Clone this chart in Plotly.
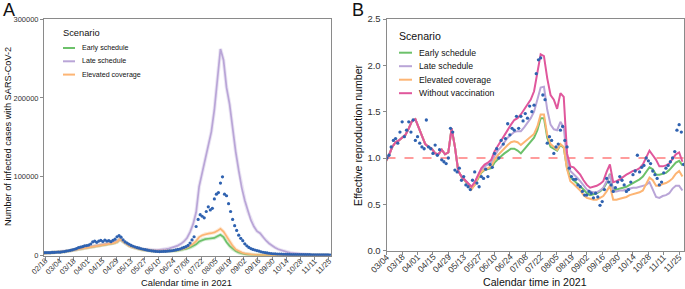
import plotly.graph_objects as go
import pandas as pd

# ---------------- Panel A : infected cases ----------------
a_line_dates = pd.date_range("2021-02-17", periods=95, freq="3D")
a_early = [3000, 3200, 3400, 3700, 4000, 4300, 4800, 5300, 5900, 6500, 7200, 8000, 8800, 9600, 10300,
           11000, 11700, 12300, 12900, 13500, 14100, 14700, 15300, 16000, 17500,
           21000, 18000, 15000, 12600, 11000, 9700, 8800, 8000, 7300, 6700,
           6200, 5900, 5700, 5600, 5600, 5600, 5700, 5900, 6200, 6600,
           7200, 8000, 9000, 10300, 12000, 14500, 18000, 20000, 21000, 21500,
           22000, 22500, 24500, 26500, 23500, 17000, 12500, 8500, 5800, 4000,
           2700, 1900, 1400, 1100, 900, 800, 700, 650, 600, 550,
           500, 500, 450, 450, 400, 400, 400, 400, 400, 400,
           400, 400, 400, 400, 400, 400, 400, 400, 400, 400]
a_late = [3000, 3300, 3600, 3900, 4200, 4500, 5000, 5600, 6200, 6800, 7500, 8300, 9200, 10000, 10800,
          11600, 12300, 13000, 13600, 14200, 14800, 15500, 16200, 17000, 18500,
          21500, 18500, 15500, 13000, 11300, 10000, 9200, 8500, 8000, 7600,
          7300, 7100, 7100, 7300, 7700, 8300, 9000, 10000, 11200, 12800,
          15000, 18000, 22500, 30000, 40000, 55000, 88000, 105000, 122000, 140000,
          157000, 185000, 222000, 262000, 248000, 213000, 192000, 160000, 132000, 108000,
          86000, 70000, 56000, 45000, 37000, 31000, 28500, 23500, 19000, 15500,
          12500, 10000, 8200, 6800, 5500, 4500, 3700, 3100, 2600, 2200,
          1900, 1600, 1400, 1200, 1000, 900, 800, 700, 600, 500]
a_elevated = [3000, 3200, 3400, 3700, 4000, 4300, 4800, 5300, 5900, 6500, 7200, 8000, 8800, 9600, 10300,
              11000, 11700, 12300, 12900, 13500, 14100, 14700, 15300, 16000, 17500,
              21000, 18000, 15000, 12600, 11000, 9700, 8800, 8000, 7300, 6700,
              6200, 5900, 5700, 5600, 5600, 5700, 5900, 6200, 6600, 7200,
              8000, 9000, 10500, 12500, 15000, 18500, 23500, 26000, 27500, 28000,
              28500, 29500, 31500, 34000, 30500, 24000, 18000, 12500, 8000, 5500,
              4000, 2800, 2000, 1500, 1200, 1000, 850, 700, 650, 600,
              550, 500, 500, 450, 450, 400, 400, 400, 400, 400,
              400, 400, 400, 400, 400, 400, 400, 400, 400, 400]

a_obs_dates = pd.date_range("2021-02-17", periods=142, freq="2D")
a_observed = [3800, 3900, 4000, 3800, 4200, 4100,
              4400, 4600, 4500, 5000, 5200, 5800, 6300, 6800, 7400, 8200, 9000, 10200, 10800, 11500, 12500, 12800,
              13500, 14800, 17500, 18500, 17000, 18500, 19500, 18000, 19800, 18500, 19200, 17800, 19500, 21000, 24000,
              25500, 23500, 20000, 17500, 16000, 14500, 13000, 12000, 11000, 10200, 9500, 8800, 8200, 7600, 7000,
              6600, 6200, 5800, 5500, 5300, 5200, 5300, 5500, 5600, 5800, 6000, 6300, 6800, 7300, 8000,
              8500, 9500, 10500, 11500, 13000, 16000, 20000, 24000, 37000, 46000, 52000, 50000, 48000, 56000, 62000, 58000,
              60000, 72000, 78000, 80000, 92000, 100000, 78000, 76000, 66000, 56000, 46000, 38000, 32000, 26000, 22000,
              19000, 15000, 12500, 10500, 9000, 8000, 7200, 6500, 5800, 5000, 4400, 3900, 3500, 3100, 2800,
              2500, 2300, 2100, 2000, 1900, 1800, 1700, 1650, 1600, 1550, 1500, 1500, 1450, 1400, 1400, 1350,
              1300, 1300, 1250, 1200, 1200, 1150, 1100, 1100, 1050, 1000, 1000, 950, 900]

a_tick_labels = ["02/18", "03/04", "03/18", "04/01", "04/15", "04/29", "05/13", "05/27", "06/10", "06/24",
                 "07/08", "07/22", "08/05", "08/19", "09/02", "09/16", "09/30", "10/14", "10/28", "11/11", "11/25"]
a_y_ticks = [0, 100000, 200000, 300000]

# ---------------- Panel B : effective reproduction number ----------------
b_line_dates = pd.date_range("2021-03-03", periods=91, freq="3D")
b_without = [0.96, 1.03, 1.12, 1.17, 1.19, 1.22, 1.25, 1.32, 1.40, 1.42,
             1.33, 1.22, 1.15, 1.12, 1.10, 1.05, 1.04, 1.09, 1.04, 1.06,
             1.32, 1.12, 0.86, 0.80, 0.76, 0.72, 0.69, 0.74, 0.82, 0.89,
             0.93, 0.95, 0.98, 1.07, 1.13, 1.19, 1.25, 1.31, 1.36, 1.41,
             1.43, 1.47, 1.52, 1.58, 1.63, 1.72, 1.92, 2.12, 2.10, 1.86,
             1.68, 1.63, 1.53, 1.70, 1.66, 1.05, 0.91, 0.90, 0.86, 0.82,
             0.76, 0.71, 0.68, 0.69, 0.70, 0.72, 0.75, 0.85, 0.93, 0.74,
             0.75, 0.77, 0.80, 0.82, 0.84, 0.86, 0.87, 0.89, 0.93, 1.00,
             1.08, 1.03, 0.98, 0.91, 0.91, 0.92, 0.94, 0.99, 1.04, 1.06, 0.96]
b_late = b_without[:27] + [
    0.73, 0.81, 0.87, 0.91, 0.93, 0.95, 1.02, 1.08, 1.12, 1.17, 1.22, 1.25, 1.28,
    1.29, 1.29, 1.33, 1.38, 1.43, 1.50, 1.62, 1.76, 1.77, 1.52,
    1.36, 1.31, 1.30, 1.39, 1.33, 0.98, 0.86, 0.83, 0.79, 0.75,
    0.70, 0.66, 0.64, 0.63, 0.63, 0.65, 0.68, 0.75, 0.82, 0.64,
    0.64, 0.65, 0.65, 0.66, 0.67, 0.68, 0.68, 0.69, 0.70, 0.71,
    0.74, 0.66, 0.58, 0.57, 0.59, 0.60, 0.62, 0.67, 0.70, 0.70, 0.65]
b_elevated = b_without[:26] + [
    0.66, 0.71, 0.79, 0.85, 0.88, 0.89, 0.91, 0.98, 1.03, 1.07, 1.11, 1.14, 1.17, 1.18,
    1.17, 1.14, 1.17, 1.20, 1.23, 1.26, 1.34, 1.47, 1.47, 1.25,
    1.15, 1.12, 1.09, 1.15, 1.12, 0.88, 0.75, 0.72, 0.69, 0.65,
    0.60, 0.57, 0.56, 0.55, 0.55, 0.57, 0.59, 0.64, 0.70, 0.55,
    0.55, 0.56, 0.57, 0.58, 0.60, 0.61, 0.62, 0.63, 0.65, 0.72,
    0.79, 0.76, 0.70, 0.70, 0.72, 0.73, 0.75, 0.78, 0.83, 0.86, 0.80]
b_early = b_without[:26] + [
    0.67, 0.71, 0.78, 0.84, 0.87, 0.88, 0.89, 0.95, 0.99, 1.02, 1.05, 1.08, 1.10, 1.10,
    1.08, 1.05, 1.09, 1.13, 1.17, 1.22, 1.30, 1.43, 1.43, 1.22,
    1.12, 1.10, 1.08, 1.14, 1.11, 0.89, 0.79, 0.76, 0.73, 0.70,
    0.66, 0.62, 0.60, 0.61, 0.62, 0.64, 0.67, 0.73, 0.83, 0.65,
    0.66, 0.67, 0.68, 0.69, 0.71, 0.73, 0.75, 0.77, 0.80, 0.85,
    0.90, 0.88, 0.82, 0.82, 0.83, 0.84, 0.87, 0.91, 0.95, 0.97, 0.92]

b_obs_dates = pd.date_range("2021-03-02", periods=137, freq="2D")
b_observed = [1.21, 1.00, 1.03, 1.12, 1.19, 1.21, 1.16, 1.28, 1.39, 1.23, 1.30, 1.39, 1.28, 1.41, 1.19,
              1.23, 1.16, 1.12, 1.10, 1.41, 1.12, 1.10, 1.05, 1.14, 1.03, 1.09, 0.98, 0.96, 0.94, 1.00,
              1.32, 1.28, 0.87, 0.85, 0.89, 0.76, 0.80, 0.71, 0.69, 0.66, 0.76, 0.85, 0.73, 0.69, 0.80, 0.78,
              0.88, 0.80, 0.93, 0.90, 1.05, 1.10, 1.00, 1.19, 1.15, 1.21, 1.37, 1.25, 1.32, 1.30, 1.45,
              1.32, 1.45, 1.40, 1.48, 1.43, 1.56, 1.50, 1.57, 1.91, 2.06, 2.08, 1.68, 1.63, 1.16, 1.23,
              1.19, 1.05, 1.12, 1.15, 1.30, 1.34, 1.19, 1.12, 0.89, 0.80, 0.77, 0.77, 0.71, 0.69, 0.64, 0.60,
              0.60, 0.64, 0.62, 0.57, 0.62, 0.58, 0.49, 0.53, 0.66, 0.78, 0.74, 0.71, 0.64, 0.68, 0.74,
              0.80, 0.76, 0.71, 0.64, 0.66, 0.74, 0.82, 0.86, 1.03, 0.85, 0.90, 0.92, 1.00, 0.97, 0.94,
              0.86, 0.82, 0.78, 0.71, 0.74, 0.84, 0.89, 0.92, 0.96, 1.00, 1.07, 1.30, 1.36, 1.28, 0.93]

b_tick_labels = ["03/04", "03/18", "04/01", "04/15", "04/29", "05/13", "05/27", "06/10", "06/24", "07/08",
                 "07/22", "08/05", "08/19", "09/02", "09/16", "09/30", "10/14", "10/28", "11/11", "11/25"]
b_y_ticks = [0.0, 0.5, 1.0, 1.5, 2.0, 2.5]

scenario_names = ["Early schedule", "Late schedule", "Elevated coverage", "Without vaccination"]

# ---------------- styling ----------------
W, H = 685, 289
FONT = "Liberation Sans, Arial, sans-serif"
C_GREEN = "#6cc16a"
C_PURPLE = "#b9a5d7"
C_ORANGE = "#fdb574"
C_PINK = "#e0579c"
C_BLUE = "#2f62b0"
AXIS_COL = "#8a8a8a"
A_BOTTOM, A_TOP = 255.7, 19
B_BOTTOM, B_TOP = 250.7, 19
A_TICK_FS, B_TICK_FS = 7.6, 8.6


def px_x(p):
    return p / W


def px_y(p):
    return 1 - p / H


def to_date(t):
    return f"2021-{t[:2]}-{t[3:]}"


def rot_offsets(text, fs, gap):
    # centre of a -45 deg label whose top-right corner sits just below its tick
    L = 0.556 * fs * sum(1 for ch in text if ch.isdigit()) + 0.278 * fs * text.count("/")
    c = 0.72 * fs
    dx = -0.354 * L + 0.354 * c - 0.9
    dy = 0.354 * L + 0.354 * c + gap
    return dx, -dy


fig = go.Figure()

# Panel A lines with soft ribbon
for ys, col in [(a_early, C_GREEN), (a_late, C_PURPLE), (a_elevated, C_ORANGE)]:
    fig.add_trace(go.Scatter(x=a_line_dates, y=ys, mode="lines", line=dict(color=col, width=3.6),
                             opacity=0.3, xaxis="x", yaxis="y", showlegend=False, hoverinfo="skip"))
    fig.add_trace(go.Scatter(x=a_line_dates, y=ys, mode="lines", line=dict(color=col, width=1.7),
                             xaxis="x", yaxis="y", showlegend=False))
fig.add_trace(go.Scatter(x=a_obs_dates, y=a_observed, mode="markers",
                         marker=dict(color=C_BLUE, size=3.2, line=dict(width=0)),
                         xaxis="x", yaxis="y", showlegend=False))

# Panel B lines
for ys, col in [(b_early, C_GREEN), (b_late, C_PURPLE), (b_elevated, C_ORANGE), (b_without, C_PINK)]:
    fig.add_trace(go.Scatter(x=b_line_dates, y=ys, mode="lines", line=dict(color=col, width=2),
                             xaxis="x2", yaxis="y2", showlegend=False))
fig.add_trace(go.Scatter(x=b_obs_dates, y=b_observed, mode="markers",
                         marker=dict(color=C_BLUE, size=3.3, line=dict(width=0)),
                         xaxis="x2", yaxis="y2", showlegend=False))

common_axis = dict(showline=True, linecolor=AXIS_COL, linewidth=1, mirror=True, showgrid=False,
                   zeroline=False, ticks="outside", ticklen=3, tickcolor=AXIS_COL, tickwidth=1,
                   automargin=False)

fig.update_layout(
    template="none",
    width=W, height=H, margin=dict(l=0, r=0, t=0, b=0, pad=0, autoexpand=False),
    paper_bgcolor="white", plot_bgcolor="white",
    font=dict(family=FONT, color="#222"),
    showlegend=False, hovermode=False,
    xaxis=dict(domain=[px_x(44), px_x(331)], anchor="y", type="date",
               range=["2021-02-17", "2021-11-27"],
               tickvals=[to_date(t) for t in a_tick_labels], showticklabels=False, **common_axis),
    yaxis=dict(domain=[1 - A_BOTTOM / H, 1 - A_TOP / H], anchor="x", range=[0, 300000],
               tickvals=a_y_ticks, ticktext=[str(v) for v in a_y_ticks],
               tickfont=dict(size=7.5, color="#333"), **common_axis),
    xaxis2=dict(domain=[px_x(386.5), px_x(684)], anchor="y2", type="date",
                range=["2021-03-03 18:00", "2021-11-29 10:00"],
                tickvals=[to_date(t) for t in b_tick_labels], showticklabels=False, **common_axis),
    yaxis2=dict(domain=[1 - B_BOTTOM / H, 1 - B_TOP / H], anchor="x2", range=[0, 2.5],
                tickvals=b_y_ticks, ticktext=[f"{v:.1f}" for v in b_y_ticks],
                tickfont=dict(size=9.5, color="#333"), **common_axis),
)

# reference line R = 1
fig.add_shape(type="line", xref="x2 domain", yref="y2", x0=0, x1=1, y0=1, y1=1,
              line=dict(color="#ff3a3a", width=1.2, dash="dash"), layer="below")

ann = []
# rotated date tick labels (text ends at its tick)
for t in a_tick_labels:
    dx, dy = rot_offsets(t, A_TICK_FS, 1.9)
    ann.append(dict(text=t, x=to_date(t), xref="x", y=px_y(A_BOTTOM), yref="paper",
                    xanchor="center", yanchor="middle", textangle=-45, xshift=dx, yshift=dy,
                    font=dict(size=A_TICK_FS, color="#333")))
for t in b_tick_labels:
    dx, dy = rot_offsets(t, B_TICK_FS, 2.5)
    ann.append(dict(text=t, x=to_date(t), xref="x2", y=px_y(B_BOTTOM), yref="paper",
                    xanchor="center", yanchor="middle", textangle=-45, xshift=dx, yshift=dy,
                    font=dict(size=B_TICK_FS, color="#333")))
# panel letters
ann.append(dict(text="A", x=px_x(2), y=px_y(-1), xanchor="left", yanchor="top", font=dict(size=18)))
ann.append(dict(text="B", x=px_x(351), y=px_y(-1), xanchor="left", yanchor="top", font=dict(size=18)))
# axis titles
ann.append(dict(text="Calendar time in 2021", x=px_x(187), y=px_y(282.5), xanchor="center", yanchor="middle",
                font=dict(size=9.3)))
ann.append(dict(text="Calendar time in 2021", x=px_x(535), y=px_y(282.3), xanchor="center", yanchor="middle",
                font=dict(size=10.6)))
ann.append(dict(text="Number of infected cases with SARS-CoV-2", x=px_x(8), y=px_y(137), textangle=-90,
                xanchor="center", yanchor="middle", font=dict(size=9.2)))
ann.append(dict(text="Effective reproduction number", x=px_x(358), y=px_y(135), textangle=-90,
                xanchor="center", yanchor="middle", font=dict(size=10.6)))

# legend A
ann.append(dict(text="Scenario", x=px_x(62), y=px_y(33), xanchor="left", yanchor="middle", font=dict(size=9.3)))
for i, (name, col) in enumerate(zip(scenario_names[:3], [C_GREEN, C_PURPLE, C_ORANGE])):
    yy = 48 + i * 13.3
    fig.add_shape(type="line", xref="paper", yref="paper", x0=px_x(63), x1=px_x(75), y0=px_y(yy), y1=px_y(yy),
                  line=dict(color=col, width=2))
    ann.append(dict(text=name, x=px_x(80.5), y=px_y(yy), xanchor="left", yanchor="middle", font=dict(size=7.1)))

# legend B
ann.append(dict(text="Scenario", x=px_x(398.5), y=px_y(36), xanchor="left", yanchor="middle", font=dict(size=10.6)))
for i, (name, col) in enumerate(zip(scenario_names, [C_GREEN, C_PURPLE, C_ORANGE, C_PINK])):
    yy = 52.7 + i * 13.5
    fig.add_shape(type="line", xref="paper", yref="paper", x0=px_x(399), x1=px_x(412), y0=px_y(yy), y1=px_y(yy),
                  line=dict(color=col, width=2))
    ann.append(dict(text=name, x=px_x(417.5), y=px_y(yy), xanchor="left", yanchor="middle", font=dict(size=8.7)))

for a in ann:
    a.setdefault("xref", "paper")
    a.setdefault("yref", "paper")
    a.update(showarrow=False, borderpad=0)
    a.setdefault("font", {})
    a["font"].setdefault("color", "#111")
fig.update_layout(annotations=ann)

fig.write_html("out.html", config={"displayModeBar": False, "staticPlot": True},
               post_script="document.body.style.margin='0px';document.body.style.overflow='hidden';")
